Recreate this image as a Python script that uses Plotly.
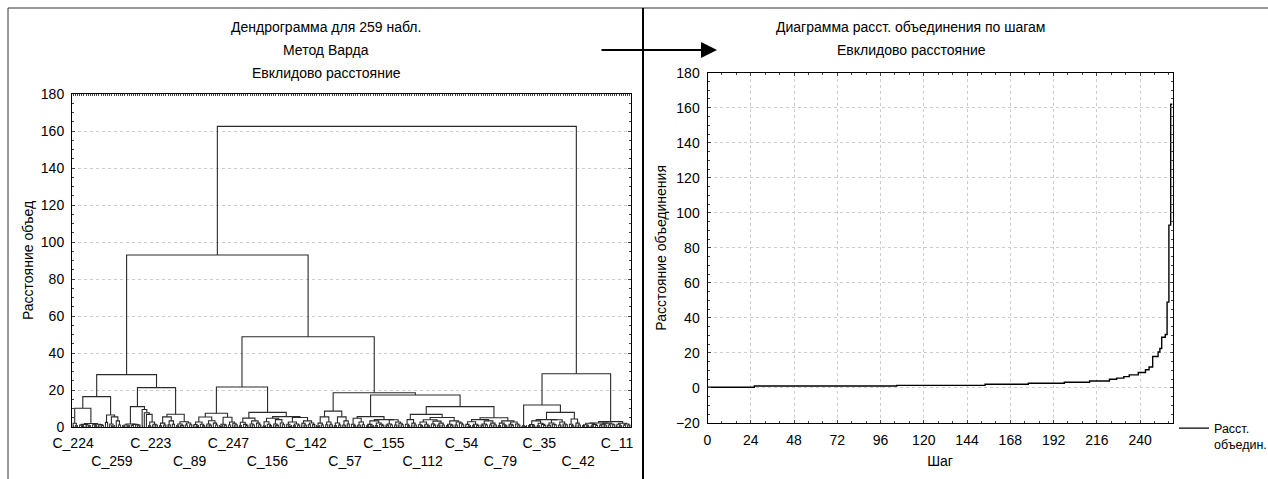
import plotly.graph_objects as go

# ---------------- Left chart: dendrogram (Ward, Euclidean), 259 cases ----------------
LEAF_TICK_INDEX = [0, 18, 36, 54, 72, 90, 108, 126, 144, 162, 180, 198, 216, 234, 252]
LEAF_TICK_LABELS = ["C_224", "C_259", "C_223", "C_89", "C_247", "C_156", "C_142", "C_57",
                    "C_155", "C_112", "C_54", "C_79", "C_35", "C_42", "C_11"]

# low-level clusters: internal fusion heights (n leaves -> n-1 heights)
BUNDLE_NAMES = ["b1", "b2", "b3", "b4", "b5", "s1", "s2", "s3", "b6", "b7", "b8", "b9", "b10",
                "b11", "b12", "b13", "b14", "b15", "b16", "b17", "b18", "b19a", "b19b", "b20",
                "b21", "cla", "b23", "b24", "b25", "b26"]
BUNDLE_HEIGHTS = [
    [0.4, 2.0],
    [0.3, 0.5, 0.4, 1.0, 1.2, 0.9, 1.1, 1.3, 1.5, 1.4, 1.9],
    [2.5],
    [0.4, 1.1, 1.6, 3.3, 5.5],
    [0.3, 0.5, 1.0, 1.2, 1.1, 0.9, 1.4, 1.6],
    [],
    [],
    [],
    [0.4, 1.1, 1.5, 2.7],
    [0.4, 1.0, 1.2, 1.5, 2.1, 3.3, 5.5],
    [0.5, 1.1, 0.9, 1.2, 1.6, 2.2, 2.8],
    [0.3, 0.5, 1.0, 1.1, 1.3, 1.5, 1.6, 2.1, 2.7, 3.4, 5.4],
    [0.4, 1.0, 1.2, 1.1, 1.5, 2.0, 2.7, 5.3],
    [0.4, 1.1, 0.9, 1.2, 1.4, 1.6, 2.1, 2.6, 3.3, 4.8],
    [0.3, 0.5, 1.0, 1.2, 1.5, 1.6, 2.2, 2.8, 4.0, 4.7],
    [0.4, 0.3, 1.0, 1.1, 1.2, 1.3, 1.5, 1.6, 2.0, 2.2, 2.7, 3.3, 5.1],
    [0.4, 1.1, 1.2, 1.5, 2.1, 2.7, 5.5],
    [0.5, 1.0, 1.1, 1.6, 2.2, 3.3, 5.5],
    [0.4, 1.1, 1.2, 1.5, 2.7, 4.7],
    [0.3, 0.4, 0.5, 1.0, 1.1, 1.2, 0.9, 1.1, 1.4, 1.5, 1.6, 2.0, 2.2, 2.7, 3.3, 3.9, 4.0],
    [0.4, 1.1, 1.5, 2.1, 4.0],
    [0.4, 0.5, 1.0, 1.1, 1.2, 1.0, 1.5, 1.6, 2.1, 2.7, 3.2, 3.9],
    [0.4, 1.1, 1.0, 1.2, 1.5, 2.1, 2.7, 3.3],
    [0.3, 0.4, 1.0, 1.1, 1.2, 1.1, 0.9, 1.4, 1.5, 1.6, 2.1, 2.8, 3.3, 4.0],
    [0.4, 0.5, 1.0, 1.1, 1.2, 1.5, 1.6, 2.1, 2.7, 3.3],
    [0.2, 0.4],
    [0.3, 0.4, 0.5, 1.0, 1.1, 1.2, 1.1, 0.9, 1.3, 1.4, 1.5, 1.6, 2.0, 2.2, 2.7, 3.3, 3.9, 4.0],
    [0.4, 1.1, 1.5, 2.1, 4.3],
    [0.3, 0.4, 0.5, 1.0, 1.1, 1.2, 1.1, 0.9, 1.2, 1.4, 1.5, 1.6, 2.0, 2.1, 2.2],
    [0.4, 1.0, 1.1, 1.5, 1.6, 2.0],
]

# upper fusions (linkage): name = left + right at height
MERGE_NAMES = ["A1a", "A1b", "A1", "st3", "st2", "st1", "A2a", "A2b", "A2", "A",
               "B1a", "B1bR", "B1b", "B1", "B2a", "B2bL", "N445", "N427", "N499", "B2bR",
               "B2b", "B2", "B", "L", "CLb", "CL", "CR", "C", "ROOT"]
MERGE_LEFT = ["b1", "b3", "A1a", "s3", "s2", "s1", "b5", "b7", "A2a", "A1",
              "b9", "b12", "b11", "B1a", "b14", "b16", "b19a", "b18", "b20", "N427",
              "B2bL", "B2a", "B1", "A", "b23", "cla", "b25", "CL", "L"]
MERGE_RIGHT = ["b2", "b4", "A1b", "b6", "st3", "st2", "st1", "b8", "A2b", "A2",
               "b10", "b13", "B1bR", "B1b", "b15", "b17", "b19b", "N445", "b21", "N499",
               "B2bR", "B2b", "B2", "B", "b24", "CLb", "b26", "CR", "C"]
MERGE_HEIGHT = [10.1, 6.5, 16.4, 6.8, 7.7, 9.5, 11.0, 6.9, 21.3, 28.3,
                7.4, 5.6, 7.9, 21.6, 8.6, 5.6, 5.1, 6.8, 5.0, 11.0,
                17.3, 18.5, 48.8, 93.0, 7.9, 11.9, 2.9, 28.8, 162.5]

# ---------------- Right chart: fusion distance by step ----------------
STEP_START = [0, 26, 105, 154, 178, 198, 212, 223, 227, 231, 234, 239, 243, 245, 247,
              250, 251, 252, 254, 255, 256, 257]
STEP_VALUE = [0.4, 1.1, 1.5, 2.1, 2.7, 3.3, 4.0, 5.0, 5.6, 6.5, 7.5, 8.8, 10.4, 12.0, 18.0,
              20.5, 22.5, 29.0, 30.5, 49.0, 93.0, 162.0]
N_STEPS = 258

# ---------------- build dendrogram geometry ----------------
bundles = dict(zip(BUNDLE_NAMES, BUNDLE_HEIGHTS))
merges = {n: (l, r, h) for n, l, r, h in zip(MERGE_NAMES, MERGE_LEFT, MERGE_RIGHT, MERGE_HEIGHT)}
seg_x, seg_y = [], []
leaf_counter = [0]


def link(a, b, h):
    seg_x.extend([a["x"], a["x"], b["x"], b["x"], None])
    seg_y.extend([a["h"], h, h, b["h"], None])


def place_bundle(heights):
    n = len(heights) + 1
    start = leaf_counter[0]
    leaf_counter[0] += n
    internal = []

    def build(lo, hi):
        if hi - lo == 1:
            return {"x": float(lo), "h": 0.0, "level": 0, "lo": lo}
        mid = (lo + hi) // 2
        left, right = build(lo, mid), build(mid, hi)
        node = {"l": left, "r": right, "level": max(left["level"], right["level"]) + 1,
                "lo": lo, "x": (left["x"] + right["x"]) / 2}
        internal.append(node)
        return node

    root = build(start, start + n)
    for node, h in zip(sorted(internal, key=lambda d: (d["level"], d["lo"])), sorted(heights)):
        node["h"] = h
    for node in internal:
        link(node["l"], node["r"], node["h"])
    return root


def place(name):
    if name in bundles:
        return place_bundle(bundles[name])
    left_name, right_name, h = merges[name]
    a = place(left_name)
    b = place(right_name)
    link(a, b, h)
    return {"x": (a["x"] + b["x"]) / 2, "h": h}


place("ROOT")
N_LEAVES = leaf_counter[0]

FONT = "Arial, Liberation Sans, sans-serif"
W, H = 1268, 479


def px(x):
    return x / W


def py(y):
    return 1 - y / H


fig = go.Figure()
fig.add_trace(go.Scatter(x=seg_x, y=seg_y, mode="lines", line=dict(color="#2a2a2a", width=1.1),
                         xaxis="x", yaxis="y", showlegend=False, hoverinfo="skip"))
fig.add_trace(go.Scatter(x=STEP_START + [N_STEPS], y=STEP_VALUE + [STEP_VALUE[-1]],
                         mode="lines", line=dict(color="black", width=1.4, shape="hv"),
                         name="Расст.<br>объедин.", xaxis="x2", yaxis="y2", hoverinfo="skip"))

ticktext = [lab if i % 2 == 0 else "<br>" + lab for i, lab in enumerate(LEAF_TICK_LABELS)]
grid = dict(showgrid=True, gridcolor="#cccccc", griddash="dot", gridwidth=1)
axfont = dict(family=FONT, size=14, color="black")
titlefont = dict(family=FONT, size=14, color="black")

fig.update_layout(
    width=W, height=H, margin=dict(l=0, r=0, t=0, b=0, autoexpand=False),
    paper_bgcolor="white", plot_bgcolor="white",
    font=dict(family=FONT, size=13, color="black"),
    xaxis=dict(domain=[px(72), px(631)], range=[-0.5, N_LEAVES - 0.5], tickmode="array",
               tickvals=LEAF_TICK_INDEX, ticktext=ticktext, ticks="", showgrid=False,
               tickangle=0, automargin=False,
               showline=True, linecolor="black", linewidth=1, mirror="allticks",
               tickfont=axfont, ticklabelstandoff=3, zeroline=False,
               minor=dict(tickmode="linear", tick0=0, dtick=1, ticks="inside", ticklen=2,
                          tickcolor="#444", showgrid=False)),
    yaxis=dict(domain=[py(427), py(94)], range=[0, 180], tickmode="linear", tick0=0, dtick=20,
               ticks="inside", ticklen=3, showline=True, linecolor="black", linewidth=1,
               mirror="allticks", tickfont=axfont, ticklabelstandoff=4, zeroline=False,
               automargin=False,
               title=dict(text="Расстояние объед", font=titlefont, standoff=3),
               minor=dict(tickmode="linear", tick0=0, dtick=5, ticks="inside", ticklen=2,
                          tickcolor="#444", showgrid=False), **grid),
    xaxis2=dict(domain=[px(707.5), px(1172.5)], range=[0, N_STEPS], tickmode="linear", tick0=0,
                dtick=24, ticks="inside", ticklen=3, showline=True, linecolor="black",
                linewidth=1, mirror="allticks", tickfont=axfont, ticklabelstandoff=4,
                zeroline=False, anchor="y2", automargin=False,
                title=dict(text="Шаг", font=titlefont, standoff=9),
                minor=dict(tickmode="linear", tick0=0, dtick=8, ticks="inside", ticklen=2,
                           tickcolor="#444", showgrid=False), **grid),
    yaxis2=dict(domain=[py(423), py(72.7)], range=[-20, 180], tickmode="linear", tick0=-20,
                dtick=20, ticks="inside", ticklen=3, showline=True, linecolor="black",
                linewidth=1, mirror="allticks", tickfont=axfont, ticklabelstandoff=4,
                zeroline=False, anchor="x2", automargin=False,
                title=dict(text="Расстояние объединения", font=titlefont, standoff=6),
                minor=dict(tickmode="linear", tick0=0, dtick=5, ticks="inside", ticklen=2,
                           tickcolor="#444", showgrid=False), **grid),
    showlegend=True,
    legend=dict(x=px(1174), y=py(413.5), xanchor="left", yanchor="top", valign="top",
                font=dict(family=FONT, size=12.5), bgcolor="rgba(0,0,0,0)", itemwidth=30,
                tracegroupgap=0),
)

titles = [
    ("Дендрограмма для 259 набл.", 326, 27),
    ("Метод Варда", 326, 50),
    ("Евклидово расстояние", 326, 73),
    ("Диаграмма расст. объединения по шагам", 911, 27),
    ("Евклидово расстояние", 911, 50),
]
for text, x, y in titles:
    fig.add_annotation(text=text, x=px(x), y=py(y), xref="paper", yref="paper",
                       showarrow=False, xanchor="center", yanchor="middle",
                       font=dict(family=FONT, size=14, color="black"))

# arrow between panels
fig.add_annotation(text="", x=px(717), y=py(50), ax=-117, ay=0, xref="paper", yref="paper",
                   axref="pixel", ayref="pixel", showarrow=True, arrowhead=2, arrowsize=1.6,
                   arrowwidth=2, arrowcolor="black", standoff=0)

# panel frames
frame = dict(type="line", xref="paper", yref="paper", line=dict(color="#333", width=1))
fig.add_shape(x0=px(8), x1=1, y0=py(8), y1=py(8), **frame)
fig.add_shape(x0=px(8), x1=px(8), y0=py(8), y1=0, **frame)
fig.add_shape(type="line", xref="paper", yref="paper", x0=px(643), x1=px(643), y0=py(8), y1=0,
              line=dict(color="black", width=2))

fig.write_html("out.html")
